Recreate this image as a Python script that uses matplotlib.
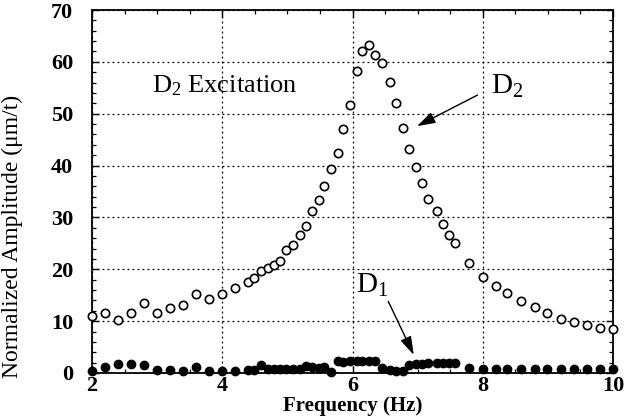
import numpy as np
import matplotlib
matplotlib.use("Agg")
import matplotlib.pyplot as plt
from matplotlib.ticker import MultipleLocator

plt.rcParams['font.family'] = ['Liberation Serif', 'DejaVu Serif']
plt.rcParams['mathtext.fontset'] = 'custom'
plt.rcParams['mathtext.rm'] = 'Liberation Serif'
plt.rcParams['mathtext.it'] = 'Liberation Serif:italic'
plt.rcParams['mathtext.bf'] = 'Liberation Serif:bold'

# frequency sweep (Hz)
freq = [2.0, 2.2, 2.4, 2.6, 2.8, 3.0, 3.2, 3.4, 3.6, 3.8, 4.0, 4.2, 4.4,
        4.49, 4.6, 4.7, 4.8, 4.89, 4.98, 5.08, 5.19, 5.29, 5.38, 5.48,
        5.57, 5.67, 5.77, 5.85, 5.96, 6.07, 6.15, 6.25, 6.35, 6.45, 6.57,
        6.67, 6.77, 6.87, 6.97, 7.07, 7.16, 7.29, 7.39, 7.48, 7.58,
        7.79, 8.0, 8.2, 8.38, 8.59, 8.8, 8.99, 9.2, 9.4, 9.6, 9.8, 10.0]

# response of D2 (excited direction)
amp_d2 = [11.0, 11.5, 10.3, 11.5, 13.5, 11.5, 12.6, 13.2, 15.2, 14.2, 15.3,
          16.3, 17.6, 18.3, 19.6, 20.2, 20.8, 21.6, 23.8, 24.7, 26.6, 28.4,
          31.3, 33.3, 36.0, 39.4, 42.4, 47.1, 51.6, 58.3, 62.0, 63.3, 61.3,
          59.8, 56.2, 52.0, 47.2, 43.2, 39.8, 36.7, 33.5, 31.2, 28.8, 26.7,
          25.0, 21.3, 18.6, 16.7, 15.4, 13.8, 12.7, 11.5, 10.5, 9.9, 9.2,
          8.7, 8.4]

# cross response of D1
amp_d1 = [0.3, 1.1, 1.8, 1.8, 1.6, 0.5, 0.5, 0.3, 1.2, 0.3, 0.3, 0.4, 0.5,
          0.5, 1.6, 0.8, 0.8, 0.8, 0.8, 0.8, 0.8, 1.3, 1.1, 0.9, 1.1, 0.1,
          2.4, 2.2, 2.3, 2.4, 2.4, 2.4, 2.4, 1.0, 0.6, 0.3, 0.4, 1.6, 1.8,
          1.8, 1.9, 1.9, 1.9, 2.0, 1.9, 0.9, 0.8, 0.7, 0.7, 0.7, 0.7, 0.7,
          0.7, 0.7, 0.7, 0.7, 0.7]

fig = plt.figure(figsize=(6.24, 4.2), dpi=100)
ax = fig.add_axes([92/624, 47/420, 521/624, 363/420])

ax.plot(freq, amp_d2, 'o', mfc='white', mec='black', mew=1.2, ms=6,
        clip_on=False, zorder=3)
ax.plot(freq, amp_d1, 'o', color='black', ms=6, clip_on=False, zorder=4)

ax.set_xlim(2, 10)
ax.set_ylim(0, 70)
ax.xaxis.set_major_locator(MultipleLocator(2))
ax.xaxis.set_minor_locator(MultipleLocator(0.5))
ax.yaxis.set_major_locator(MultipleLocator(10))
ax.yaxis.set_minor_locator(MultipleLocator(2))
ax.grid(True, which='major', color='black', linestyle=(0, (1.5, 2.5)),
        linewidth=0.9)

ax.tick_params(axis='both', which='both', direction='in', top=True,
               right=True, colors='black')
ax.tick_params(axis='both', which='major', length=5, width=1.0)
ax.tick_params(axis='both', which='minor', length=3, width=0.9)
ax.tick_params(axis='x', which='major', pad=2)
ax.tick_params(axis='y', which='major', pad=13.5)
for lab in ax.get_xticklabels() + ax.get_yticklabels():
    lab.set_fontsize(16)
    lab.set_fontweight('bold')
for sp in ax.spines.values():
    sp.set_linewidth(1.3)

ax.set_xlabel('Frequency (Hz)', fontsize=15, fontweight='bold', labelpad=0)
ax.set_ylabel('Normalized Amplitude (\u03bcm/t)', fontsize=17)
ax.yaxis.set_label_coords(-0.132, 0.377)

ax.text(2.92, 55.4, r'D$_2$ Excitation', fontsize=19, va='center', ha='left')
ax.text(8.12, 55.2, r'D$_2$', fontsize=21, va='center', ha='left')
ax.text(6.05, 16.9, r'D$_1$', fontsize=21, va='center', ha='left')

ax.annotate('', xy=(6.99, 47.6), xytext=(7.92, 53.6),
            arrowprops=dict(arrowstyle='-|>,head_length=0.8,head_width=0.25',
                            color='black', lw=1.0, mutation_scale=14,
                            shrinkA=0, shrinkB=0))
ax.annotate('', xy=(6.94, 3.5), xytext=(6.55, 13.8),
            arrowprops=dict(arrowstyle='-|>,head_length=0.8,head_width=0.25',
                            color='black', lw=1.0, mutation_scale=14,
                            shrinkA=0, shrinkB=0))

fig.savefig('out.png', dpi=100)
